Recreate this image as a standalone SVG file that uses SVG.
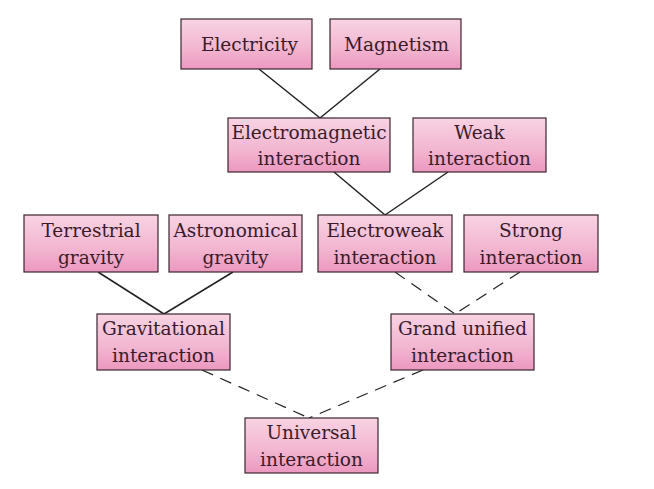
<svg xmlns="http://www.w3.org/2000/svg" width="654" height="489" viewBox="0 0 654 489">
<defs>
<linearGradient id="pink" x1="0" y1="0" x2="0" y2="1">
<stop offset="0" stop-color="#f8d3e3"/>
<stop offset="0.6" stop-color="#f2b5d0"/>
<stop offset="1" stop-color="#ec98bf"/>
</linearGradient>
<style>
.box{fill:url(#pink);stroke:#3b2630;stroke-width:1.2}
.t{font-size:18.5px;fill:#3a1b2a;text-anchor:middle}
.solid{stroke:#222;stroke-width:1.5;fill:none}
.dash{stroke:#222;stroke-width:1.2;fill:none;stroke-dasharray:12 8}
</style>
</defs>
<rect width="654" height="489" fill="#ffffff"/>
<g id="connectors">
<line class="solid" x1="259" y1="69" x2="320" y2="118"/>
<line class="solid" x1="380" y1="69" x2="320" y2="118"/>
<line class="solid" x1="334" y1="172" x2="385" y2="215"/>
<line class="solid" x1="448" y1="172" x2="385" y2="215"/>
<line class="solid" x1="98" y1="272" x2="164" y2="314"/>
<line class="solid" x1="233" y1="272" x2="164" y2="314"/>
<line class="dash" x1="395" y1="272" x2="455" y2="314"/>
<line class="dash" x1="520" y1="272" x2="455" y2="314"/>
<line class="dash" x1="202" y1="370" x2="309" y2="418"/>
<line class="dash" x1="423" y1="370" x2="309" y2="418"/>
</g>
<g font-family="'DejaVu Serif', serif">
<g id="electricity"><rect class="box" x="181" y="19" width="131" height="50"/><text class="t" x="249.5" y="51">Electricity</text></g>
<g id="magnetism"><rect class="box" x="330" y="19" width="131" height="50"/><text class="t" x="396.5" y="51">Magnetism</text></g>
<g id="electromagnetic"><rect class="box" x="228" y="118" width="162" height="54"/><text class="t" x="309" y="139">Electromagnetic</text><text class="t" x="309" y="165">interaction</text></g>
<g id="weak"><rect class="box" x="413" y="118" width="133" height="54"/><text class="t" x="479.5" y="139">Weak</text><text class="t" x="479.5" y="165">interaction</text></g>
<g id="terrestrial"><rect class="box" x="24" y="215" width="134" height="57"/><text class="t" x="91" y="237">Terrestrial</text><text class="t" x="91" y="264">gravity</text></g>
<g id="astronomical"><rect class="box" x="169" y="215" width="133" height="57"/><text class="t" x="235.5" y="237">Astronomical</text><text class="t" x="235.5" y="264">gravity</text></g>
<g id="electroweak"><rect class="box" x="318" y="215" width="134" height="57"/><text class="t" x="385" y="237">Electroweak</text><text class="t" x="385" y="264">interaction</text></g>
<g id="strong"><rect class="box" x="464" y="215" width="134" height="57"/><text class="t" x="531" y="237">Strong</text><text class="t" x="531" y="264">interaction</text></g>
<g id="gravitational"><rect class="box" x="97" y="314" width="133" height="56"/><text class="t" x="163.5" y="335">Gravitational</text><text class="t" x="163.5" y="362">interaction</text></g>
<g id="grandunified"><rect class="box" x="391" y="314" width="143" height="56"/><text class="t" x="462.5" y="335">Grand unified</text><text class="t" x="462.5" y="362">interaction</text></g>
<g id="universal"><rect class="box" x="245" y="418" width="133" height="55"/><text class="t" x="311.5" y="439">Universal</text><text class="t" x="311.5" y="466">interaction</text></g>
</g>
</svg>
